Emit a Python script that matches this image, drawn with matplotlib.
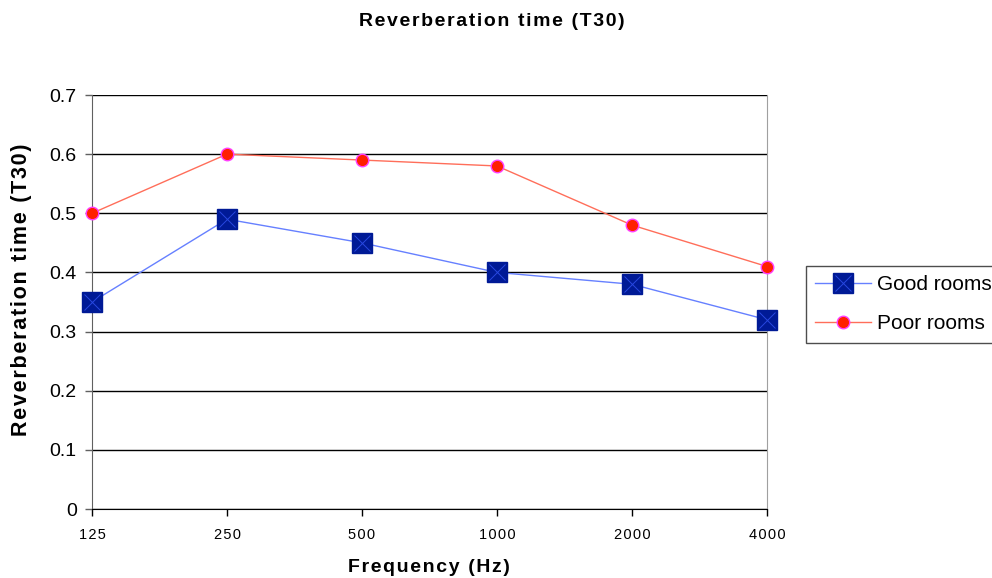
import matplotlib
matplotlib.use("Agg")
import matplotlib.pyplot as plt
from matplotlib.lines import Line2D

plt.rcParams['font.family'] = ['Liberation Sans', 'DejaVu Sans']

frequencies = ["125", "250", "500", "1000", "2000", "4000"]
good_rooms = [0.35, 0.49, 0.45, 0.40, 0.38, 0.32]
poor_rooms = [0.50, 0.60, 0.59, 0.58, 0.48, 0.41]
y_ticks = [0, 0.1, 0.2, 0.3, 0.4, 0.5, 0.6, 0.7]
y_labels = ["0", "0.1", "0.2", "0.3", "0.4", "0.5", "0.6", "0.7"]

HAIR = "\u200a"


def spaced(s):
    """Loosen the letter spacing with hair spaces."""
    return HAIR.join(s)


fig = plt.figure(figsize=(9.92, 5.78), dpi=100)
ax = fig.add_axes([92/992, 1-509/578, (767-92)/992, (509-95)/578])

x = list(range(len(frequencies)))

ax.set_ylim(0, 0.7)
ax.set_xlim(0, len(frequencies) - 1)
ax.set_yticks(y_ticks)
ax.set_yticklabels(y_labels, fontsize=14)
ax.set_xticks(x)
ax.set_xticklabels([spaced(f) for f in frequencies], fontsize=10.5)

ax.yaxis.grid(True, color='black', linewidth=1.0)
ax.set_axisbelow(True)

ax.spines['top'].set_visible(False)
ax.spines['right'].set_color('#a0a0a0')
ax.spines['left'].set_color('#606060')
ax.spines['bottom'].set_color('black')
ax.tick_params(axis='y', length=5, width=1, color='#606060', pad=6)
ax.tick_params(axis='x', length=5, width=1, color='black', pad=9)

GOOD_LINE = '#6680ff'
GOOD_FACE = '#001a96'
GOOD_CROSS = '#2848e0'
POOR_LINE = '#ff6e5a'
POOR_FACE = '#ff2000'
POOR_EDGE = '#ff40ff'

# Good rooms: navy squares with an inner cross
ax.plot(x, good_rooms, color=GOOD_LINE, linewidth=1.0, zorder=3)
ax.plot(x, good_rooms, linestyle='none', marker='s', markersize=14,
        markerfacecolor=GOOD_FACE, markeredgecolor=GOOD_FACE, zorder=4,
        clip_on=False)
ax.plot(x, good_rooms, linestyle='none', marker='x', markersize=12,
        markeredgecolor=GOOD_CROSS, markeredgewidth=0.7, zorder=5,
        clip_on=False)

# Poor rooms: red dots with magenta rim
ax.plot(x, poor_rooms, color=POOR_LINE, linewidth=1.0, zorder=3)
ax.plot(x, poor_rooms, linestyle='none', marker='o', markersize=9,
        markerfacecolor=POOR_FACE, markeredgecolor=POOR_EDGE,
        markeredgewidth=1.0, zorder=4, clip_on=False)

fig.text(492/992, 1-21/578, spaced("Reverberation time (T30)"), ha='center',
         va='center', fontsize=14, fontweight='bold')
fig.text(22/992, 1-290/578, spaced("Reverberation time (T30)"), ha='center',
         va='center', rotation=90, fontsize=15.5, fontweight='bold')
fig.text(429/992, 1-567/578, spaced("Frequency (Hz)"), ha='center',
         va='center', fontsize=14, fontweight='bold')

good_line = Line2D([], [], color=GOOD_LINE, linewidth=1.0, marker='s',
                   markersize=14, markerfacecolor=GOOD_FACE,
                   markeredgecolor=GOOD_FACE)
good_cross = Line2D([], [], linestyle='none', marker='x', markersize=12,
                    markeredgecolor=GOOD_CROSS, markeredgewidth=0.7)
poor_line = Line2D([], [], color=POOR_LINE, linewidth=1.0, marker='o',
                   markersize=9, markerfacecolor=POOR_FACE,
                   markeredgecolor=POOR_EDGE)
leg = fig.legend([(good_line, good_cross), poor_line],
                 ["Good rooms", "Poor rooms"],
                 loc='upper left', bbox_to_anchor=(806/992, 1-266/578),
                 fontsize=15, frameon=True, fancybox=False,
                 edgecolor='#202020', handlelength=2.65, borderpad=0.45,
                 labelspacing=0.95, handletextpad=0.33, borderaxespad=0)
leg.get_frame().set_linewidth(1.0)

fig.savefig("out.png", dpi=100)
